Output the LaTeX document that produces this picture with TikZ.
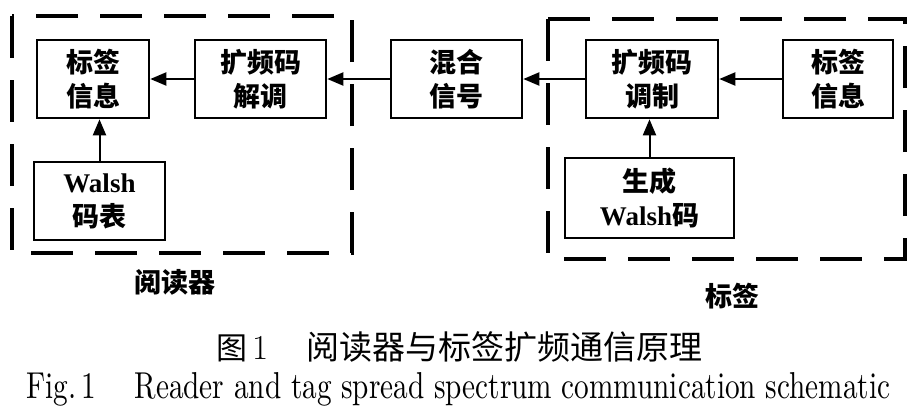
\documentclass[tikz,border=0pt]{standalone}
\usepackage{fontspec}
\setmainfont{Liberation Serif}
\newfontfamily\cjk{Noto Sans CJK SC}
\newfontfamily\lmr{Latin Modern Roman}
\usetikzlibrary{arrows.meta}
\begin{document}
\begin{tikzpicture}[x=1pt,y=-1pt,
  blk/.style={draw,line width=2.6pt,minimum height=78pt,inner sep=0pt,align=center,
    font=\cjk\bfseries\fontsize{27}{34}\selectfont},
  grp/.style={draw,line width=3.6pt,dash pattern=on 42pt off 22pt},
  conn/.style={line width=2pt,-{Triangle[length=16pt,width=13pt]}},
  lbl/.style={font=\cjk\bfseries\fontsize{27}{32}\selectfont,inner sep=0pt}]
\useasboundingbox[fill=white] (0,0) rectangle (918,416);
% group frames
\draw[grp] (12,16) rectangle (352,253);
\draw[grp] (548,19) rectangle (905,259);
% blocks
\node[blk,minimum width=112pt] (tagL) at (93,79) {标签\\信息};
\node[blk,minimum width=131pt] (demod) at (260.5,79) {扩频码\\解调};
\node[blk,minimum width=131pt] (walshL) at (99.5,201) {{\rmfamily\bfseries Walsh}\\码表};
\node[blk,minimum width=131pt] (mix) at (456.5,79) {混合\\信号};
\node[blk,minimum width=132pt] (mod) at (652,79) {扩频码\\调制};
\node[blk,minimum width=110pt] (tagR) at (838,79) {标签\\信息};
\node[blk,minimum width=169pt,minimum height=80pt] (gen) at (649.5,198) {生成\\{\rmfamily\bfseries Walsh}码};
% connectors
\draw[conn] (demod.west) -- (tagL.east);
\draw[conn] (mix.west) -- (demod.east);
\draw[conn] (mod.west) -- (mix.east);
\draw[conn] (tagR.west) -- (mod.east);
\draw[conn] (walshL.north) -- (walshL.north |- tagL.south);
\draw[conn] (gen.north) -- (gen.north |- mod.south);
% group labels
\node[lbl] (reader) at (175,282) {阅读器};
\node[lbl] (tag) at (732,296) {标签};
% captions
\node[anchor=base west,inner sep=0pt,font=\cjk\fontsize{31}{32}\selectfont] (cap1) at (216,359) {图\,{\lmr\fontsize{35}{36}\selectfont 1}};
\node[anchor=base west,inner sep=0pt,font=\cjk\fontsize{33}{34}\selectfont] (cap2) at (306,359) {阅读器与标签扩频通信原理};
\node[anchor=base west,inner sep=0pt] (cap3) at (26,398) {\resizebox{864pt}{26pt}{\lmr Fig.\,1\quad\ Reader and tag spread spectrum communication schematic}};
\end{tikzpicture}
\end{document}
